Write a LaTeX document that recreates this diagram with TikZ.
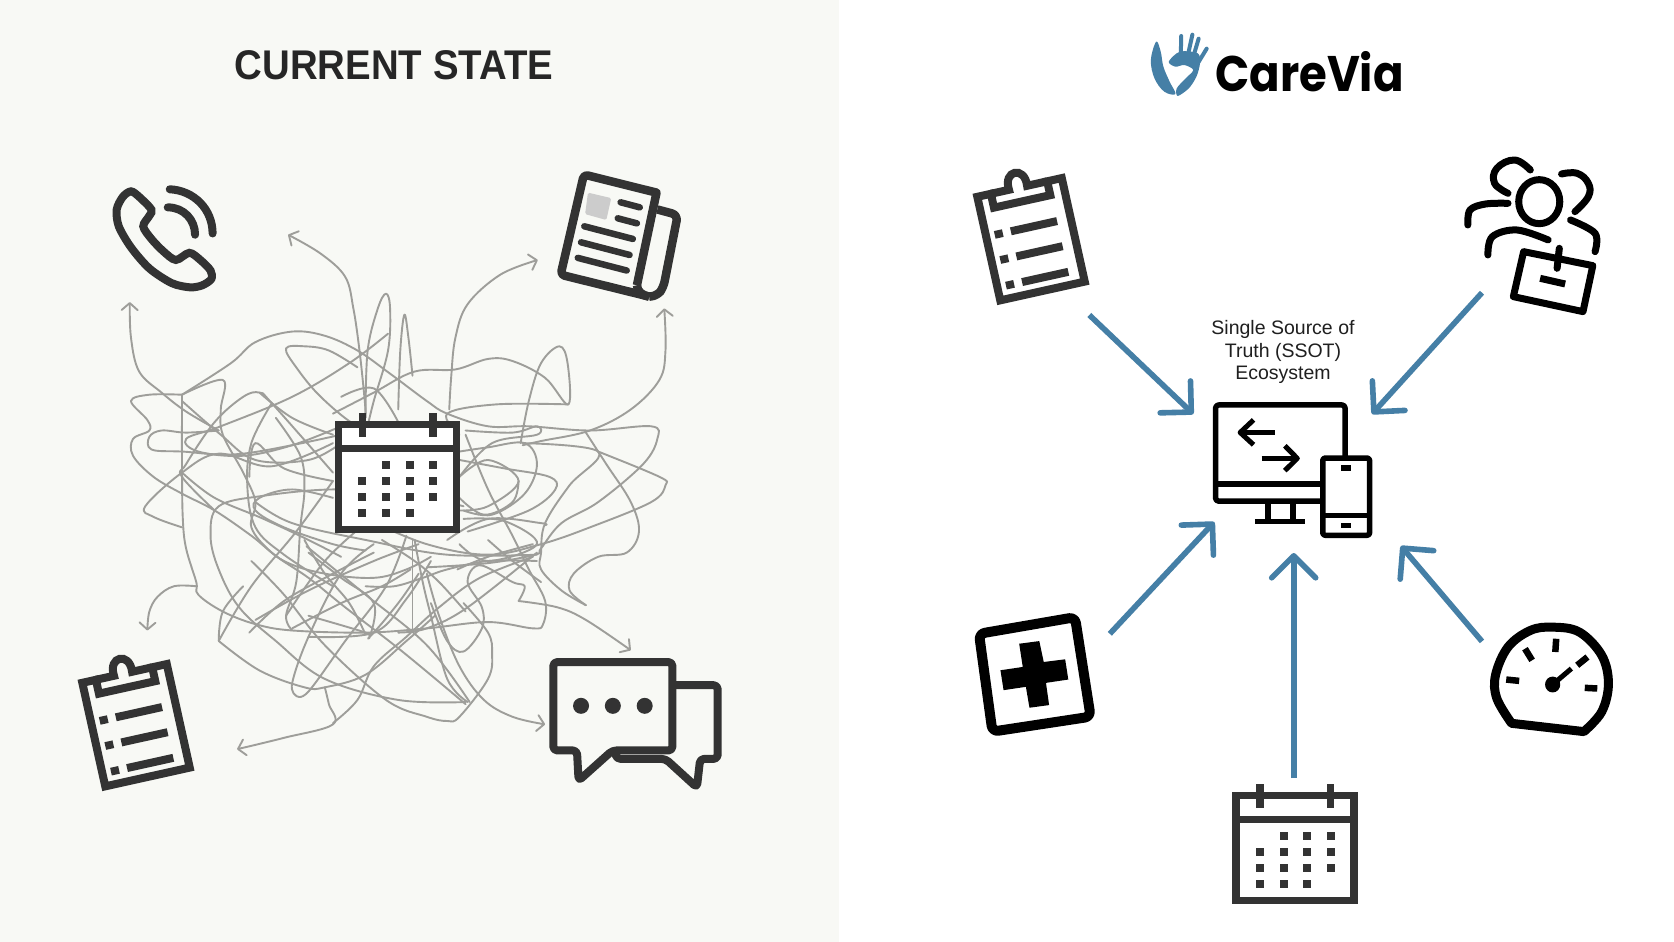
\documentclass[tikz,border=0pt]{standalone}
\usepackage{fontspec}
\usetikzlibrary{arrows.meta}
\newfontfamily\titlefont[FakeStretch=.925]{Liberation Sans}
\newfontfamily\logofont[FakeStretch=.9]{Poppins}
\newfontfamily\labelfont{Liberation Sans}
\definecolor{ink}{HTML}{333333}
\definecolor{panel}{HTML}{F8F9F5}
\definecolor{scribble}{HTML}{9E9E9A}
\definecolor{care}{HTML}{457FA6}
\tikzset{
  zoneA/.style={x=.408pt,y=-.421pt,shift={(80pt,-140pt)}},
  zoneB/.style={x=.4464pt,y=-.3333pt,shift={(950pt,-20pt)}},
  zoneC/.style={x=.4464pt,y=-.3316pt,shift={(950pt,-400pt)}},
  scrib/.style={draw=scribble,line width=1.9pt,line join=round,line cap=round},
  scribarrow/.style={scrib,-{Straight Barb[length=7pt,width=16pt,round]}},
  flow/.style={draw=care,line width=5.6pt,-{Straight Barb[length=22pt,width=44pt,round]}},
  iconline/.style={draw=ink,line width=7.5pt},
  blackline/.style={draw=black,line width=7pt},
  calendaricon/.pic={
    \draw[iconline,fill=white] (3.5,3.5) rectangle (121.5,108.5);
    \draw[iconline] (3.5,27.6) -- (121.5,27.6);
    \foreach \rx in {27.4,98}{\draw[iconline] (\rx,-8) -- (\rx,16);}
    \foreach \dx/\dy in {51/44,74.7/44,98/44,27.4/60,51/60,74.7/60,98/60,27.4/76,51/76,74.7/76,98/76,27.4/92,51/92,74.7/92}{
      \fill[ink] (\dx-4,\dy-4) rectangle (\dx+4,\dy+4);}
  },
  clipboardicon/.pic={
    \begin{scope}[rotate=12.5,x=1.03pt,y=-1.05pt]
    \draw[iconline,line width=8pt] (17,3.5) -- (3.5,3.5) -- (3.5,104.5) -- (87.5,104.5) -- (87.5,3.5) -- (73,3.5) -- (73,17) -- (17,17) -- cycle;
    \draw[iconline,line width=8pt] (17,3.5) -- (35,3.5) .. controls (33,-16) and (55,-16) .. (53,3.5) -- (73,3.5);
    \foreach \v in {42.5,67,92}{
      \draw[iconline,line width=8pt] (28,\v) -- (74,\v);
      \fill[ink] (12,\v-3.7) rectangle (20,\v+3.7);}
    \end{scope}
  }
}
\begin{document}
\begin{tikzpicture}[x=1pt,y=-1pt,line cap=butt]
\useasboundingbox (0,0) rectangle (1674,942);
\fill[white] (0,0) rectangle (1674,942);
\fill[panel] (0,0) rectangle (839,942);
\node[font=\titlefont\bfseries\fontsize{41.5}{41.5}\selectfont,text=black!85] (title) at (394,65) {CURRENT STATE};

% tangle
\begin{scope}[zoneA]
\tikzset{tn/.style={smooth,tension=.6}}
% loose ends with arrowheads
\draw[scribarrow] plot[tn] coordinates {(340,690)(260,645)(200,600)(145,550)(125,470)(122,385)};
\draw[scribarrow] plot[tn] coordinates {(700,660)(698,620)(685,500)(670,400)(650,325)(590,270)(510,225)};
\draw[scribarrow] plot[tn] coordinates {(905,640)(910,560)(920,470)(950,390)(1030,320)(1122,285)};
\draw[scribarrow] plot[tn] coordinates {(1085,725)(1130,715)(1250,690)(1350,640)(1420,570)(1435,500)(1432,400)};
\draw[scribarrow] plot[tn] coordinates {(285,1060)(230,1060)(190,1085)(170,1120)(165,1165)};
\draw[scribarrow] plot[tn] coordinates {(600,1300)(610,1340)(620,1388)(500,1420)(385,1447)};
\draw[scribarrow] plot[tn] coordinates {(850,1030)(880,1130)(930,1250)(990,1330)(1060,1370)(1140,1388)};
\draw[scribarrow] plot[tn] coordinates {(1075,1095)(1170,1110)(1240,1140)(1350,1212)};
% the knot
\draw[scrib] plot[tn] coordinates {(250,605)(170,605)(125,620)(165,665)(170,690)(130,710)(130,750)(180,800)(250,840)(330,880)(420,940)(500,1000)(600,1030)(720,1040)(800,1020)(860,990)};
\draw[scrib] plot[tn] coordinates {(250,605)(250,780)(252,900)(260,970)(285,1050)(290,1080)(350,1120)(430,1150)(520,1165)(700,1170)(850,1160)(1000,1145)(1110,1160)(1135,1150)(1140,1095)(1100,1020)(1060,940)(1000,830)(945,700)};
\draw[scrib] plot[tn] coordinates {(250,605)(350,570)(345,640)(350,700)(400,790)(430,860)(420,920)(470,980)(560,1040)(650,1110)(790,1215)(945,1340)};
\draw[scrib] plot[tn] coordinates {(250,605)(370,530)(430,480)(520,455)(600,465)(680,500)(760,555)(850,620)(900,650)(1000,680)(1100,680)(1250,690)(1400,680)(1415,710)(1380,770)(1270,860)(1180,910)(1130,970)(1115,985)(1000,1005)(850,1015)};
\draw[scrib] plot[tn] coordinates {(680,540)(610,500)(550,490)(505,495)(530,540)(590,610)(680,680)(760,700)};
\draw[scrib] plot[tn] coordinates {(780,640)(785,500)(795,415)(805,470)(815,560)};
\draw[scrib] plot[tn] coordinates {(700,650)(705,500)(730,400)(750,365)(760,400)(755,500)(720,620)(705,680)};
\draw[scrib] plot[tn] coordinates {(755,460)(660,530)(520,610)(345,680)(260,710)(290,740)(400,750)(520,725)(640,680)};
\draw[scrib] plot[tn] coordinates {(1080,720)(1100,620)(1130,530)(1175,490)(1195,530)(1197,628)(1140,565)(1060,525)(1000,520)(920,545)(820,550)(720,600)(620,650)};
\draw[scrib] plot[tn] coordinates {(1197,628)(1020,628)(900,650)(930,700)};
\draw[scrib] plot[tn] coordinates {(640,700)(400,745)(250,740)(175,735)(170,705)(200,690)(260,695)(340,690)};
\draw[scrib] plot[tn] coordinates {(620,720)(470,775)(340,745)(250,790)(160,870)(180,895)(250,920)};
\draw[scrib] plot[tn] coordinates {(1270,740)(1420,800)(1435,820)(1400,860)(1250,920)(1130,960)(1000,985)(850,960)(700,900)};
\draw[scrib] plot[tn] coordinates {(1085,720)(1270,740)(1200,820)(1140,910)(1130,980)(1130,1020)(1180,1070)(1240,1105)};
\draw[scrib] plot[tn] coordinates {(1240,695)(1290,770)(1350,860)(1370,930)(1340,980)(1270,990)(1210,1030)(1200,1070)(1240,1105)};
\draw[scrib] plot[tn] coordinates {(620,790)(470,625)(440,600)(400,610)(330,670)(260,770)(250,800)(330,880)};
\draw[scrib] plot[tn] coordinates {(470,625)(420,720)(410,820)(430,920)(500,985)(620,1060)};
\draw[scrib] plot[tn] coordinates {(480,660)(540,750)(550,830)(540,920)(530,1050)(505,1130)(520,1165)};
\draw[scrib] plot[tn] coordinates {(940,870)(800,840)(620,830)(450,845)(340,870)(320,940)(340,1020)(390,1110)(480,1190)(600,1280)(780,1330)(945,1335)};
\draw[scrib] plot[tn] coordinates {(430,860)(520,910)(700,950)(900,985)(1120,985)};
\draw[scrib] plot[tn] coordinates {(1120,980)(950,1110)(850,1160)(780,1170)};
\draw[scrib] plot[tn] coordinates {(340,1190)(440,1260)(550,1300)(600,1300)(700,1270)(800,1190)(870,1130)};
\draw[scrib] plot[tn] coordinates {(340,1190)(420,1060)(530,930)(620,810)};
\draw[scrib] plot[tn] coordinates {(530,1320)(520,1290)(560,1180)(640,1030)(720,960)};
\draw[scrib] plot[tn] coordinates {(530,1320)(560,1310)(650,1190)(750,1060)(800,940)};
\draw[scrib] plot[tn] coordinates {(415,1170)(500,1095)(620,1030)(720,980)};
\draw[scrib] plot[tn] coordinates {(620,1385)(680,1330)(720,1250)(800,1180)(880,1110)(980,1040)(1110,990)};
\draw[scrib] plot[tn] coordinates {(820,950)(840,1050)(860,1130)(900,1280)(950,1335)};
\draw[scrib] plot[tn] coordinates {(860,1100)(900,1190)(940,1215)(985,1160)(985,1110)(950,1050)(980,1010)(1060,1050)(1090,1060)(1075,1095)};
\draw[scrib] plot[tn] coordinates {(940,1100)(1000,1170)(1010,1220)(1000,1280)(930,1370)(900,1380)(850,1370)(750,1330)(600,1200)(500,1080)(420,1000)};
\draw[scrib] plot[tn] coordinates {(815,950)(815,1100)(815,1160)};
\draw[scrib] plot[tn] coordinates {(710,1180)(720,1100)(640,1040)(560,980)};
\draw[scrib] plot[tn] coordinates {(505,1130)(600,1000)(700,910)};
\draw[scrib] plot[tn] coordinates {(560,1130)(700,1170)(710,1180)(780,1100)(830,1030)};
\draw[scrib] plot[tn] coordinates {(945,690)(1060,695)(1120,680)(1120,700)(1010,720)(930,800)};
\draw[scrib] plot[tn] coordinates {(930,760)(1040,780)(1150,800)(1165,830)(1100,880)(950,930)};
\draw[scrib] plot[tn] coordinates {(930,740)(1000,730)(1090,720)(1120,770)(1090,840)(1010,890)(940,880)};
\draw[scrib] plot[tn] coordinates {(1075,810)(1060,860)(990,890)(930,850)};
\draw[scrib] plot[tn] coordinates {(900,950)(1000,900)(1130,910)(1140,915)};
\draw[scrib] plot[tn] coordinates {(640,610)(720,590)(780,670)};
\draw[scrib] plot[tn] coordinates {(930,800)(1000,760)(1075,810)(1000,870)(930,880)};
\draw[scrib] plot[tn] coordinates {(620,810)(500,780)(430,720)(415,800)};
\draw[scrib] plot[tn] coordinates {(620,850)(520,830)(440,850)(430,880)(500,920)(620,960)(700,975)};
% further strands
\draw[scrib] plot[tn] coordinates {(555,965)(700,1080)(850,1200)(955,1335)};
\draw[scrib] plot[tn] coordinates {(430,1140)(560,1070)(720,1000)(830,960)};
\draw[scrib] plot[tn] coordinates {(520,1160)(640,1100)(740,1060)(810,1020)};
\draw[scrib] plot[tn] coordinates {(1120,1000)(1000,1000)(900,1020)(840,1040)(770,1060)(700,1060)};
\draw[scrib] plot[tn] coordinates {(1000,950)(1060,1000)(1130,1050)};
\draw[scrib] plot[tn] coordinates {(340,1190)(350,1120)(400,1060)};
\draw[scrib] plot[tn] coordinates {(700,1175)(660,1100)(600,1030)(550,950)};
\draw[scrib] plot[tn] coordinates {(925,1020)(1000,990)(1110,960)};
\draw[scrib] plot[tn] coordinates {(250,620)(345,700)(430,760)(560,760)(640,720)};
\draw[scrib] plot[tn] coordinates {(440,600)(520,660)(620,700)};
\draw[scrib] plot[tn] coordinates {(250,790)(330,850)(450,900)(560,950)(640,990)};
\draw[scrib] plot[tn] coordinates {(560,1180)(720,1170)(800,1090)(860,1000)};
\draw[scrib] plot[tn] coordinates {(945,1120)(880,1050)(820,1000)(740,950)};
\draw[scrib] plot[tn] coordinates {(940,900)(1040,905)(1120,960)(1000,1000)(930,960)};

% phone
\draw[iconline,line width=8pt] plot[smooth cycle,tension=.5] coordinates {(125,122)(145,135)(175,165)(170,180)(155,205)(175,235)(205,265)(235,285)(268,268)(295,285)(320,310)(322,330)(300,345)(270,350)(225,340)(170,305)(125,255)(95,205)(90,165)(105,135)};
\draw[iconline,line width=8pt,line cap=round] (215,160) .. controls (255,160) and (282,190) .. (282,225);
\draw[iconline,line width=8pt,line cap=round] (220,117) .. controls (280,120) and (325,165) .. (325,222);
% newspaper
\draw[iconline,line width=8.5pt,line join=round] (1365,345) -- (1413,125) [rounded corners=4pt] -- (1235,82) -- (1178,320) -- (1395,372);
\draw[iconline,line width=8.5pt,line join=round,rounded corners=6pt] (1415,165) -- (1465,178) -- (1430,350) -- (1415,370) -- (1395,372);
\draw[iconline,line width=8.5pt] (1365,345) .. controls (1365,360) and (1380,370) .. (1395,372);
\fill[black!20,rounded corners=1.5pt] (1245,125) -- (1302,138) -- (1290,190) -- (1238,176) -- cycle;
\foreach \xa/\ya/\xb/\yb in {1325/148/1372/160,1318/186/1365/198,1236/205/1355/235,1228/243/1347/273,1220/280/1340/310}{
  \draw[iconline,line width=6.5pt,line cap=round] (\xa,\ya) -- (\xb,\yb);}
% chat
\draw[iconline,line width=8pt,line join=round,rounded corners=4pt] (1160,1240) -- (1452,1240) -- (1452,1450) -- (1305,1450) -- (1222,1522) -- (1218,1450) -- (1160,1450) -- cycle;
\draw[iconline,line width=8pt,line join=round,rounded corners=4pt,line cap=round] (1455,1295) -- (1563,1295) -- (1563,1470) -- (1520,1470) -- (1512,1538) -- (1435,1470) -- (1315,1470) -- (1312,1458);
\foreach \cx in {1228,1306,1384}{\fill[ink] (\cx,1344) circle[radius=8pt];}
\end{scope}

\pic at (335,421) {calendaricon};
\pic at (78,680) {clipboardicon};
\pic at (973,194) {clipboardicon};
\pic at (1232.6,792) {calendaricon};

% logo
\begin{scope}[zoneB]
\fill[care] plot[smooth cycle,tension=.6] coordinates {(462,65)(450,120)(458,175)(480,215)(505,222)(492,185)(478,140)(472,95)};
\fill[care] plot[smooth cycle,tension=.5] coordinates {(490,125)(515,95)(555,100)(560,130)(552,170)(535,205)(510,228)(508,205)(528,175)(545,150)(525,135)(505,140)};
\foreach \xa/\ya/\xb/\yb in {518/48/517/105,543/44/533/105,557/56/545/110,575/86/555/130}{
  \draw[care,line width=4pt,line cap=round] (\xa,\ya) -- (\xb,\yb);}
% person and briefcase
\tikzset{pp/.style={blackline,line cap=round,line join=round}}
\draw[pp] plot[smooth,tension=.7] coordinates {(1300,450)(1265,420)(1225,445)(1220,490)(1250,520)};
\draw[pp] plot[smooth,tension=.7] coordinates {(1370,462)(1405,460)(1430,490)(1430,530)(1400,575)};
\draw[pp] (1320,545) ellipse[x radius=46,y radius=66];
\draw[pp] plot[smooth,tension=.6] coordinates {(1160,615)(1165,570)(1200,552)(1250,550)};
\draw[pp] plot[smooth,tension=.6] coordinates {(1205,705)(1215,650)(1270,630)(1340,660)};
\draw[pp] plot[smooth,tension=.6] coordinates {(1390,600)(1445,640)(1445,695)};
\draw[pp] (1285,695) -- (1440,737) -- (1418,875) -- (1262,830) -- cycle;
\draw[pp] (1365,685) -- (1360,745);
\draw[blackline] (1322,775) -- (1378,792);
\end{scope}
\node[font=\logofont\bfseries\fontsize{50}{50}\selectfont,text=black,anchor=base west,inner sep=0pt] (brand) at (1215,91.5) {CareVia};
\node[font=\labelfont\fontsize{19.5}{22.6}\selectfont,text=black!88,align=center] (ssot) at (1283,352) {Single Source of\\Truth (SSOT)\\Ecosystem};

% device hub
\begin{scope}[zoneC]
\tikzset{dv/.style={draw=black,line width=5.5pt,line join=round}}
\draw[dv,rounded corners=3pt] (885,172) -- (885,15) -- (595,15) -- (595,305) -- (832,305);
\draw[dv] (595,253) -- (832,253);
\draw[dv] (712,310) -- (712,365);
\draw[dv] (768,310) -- (768,365);
\draw[dv] (683,366) -- (796,366);
\draw[dv,line width=5pt] (728,98) -- (650,98);
\draw[dv,line width=5pt] (680,60) -- (650,98) -- (680,135);
\draw[dv,line width=5pt] (698,176) -- (778,176);
\draw[dv,line width=5pt] (750,138) -- (778,176) -- (750,213);
\draw[dv,rounded corners=2.5pt] (835,175) rectangle (940,408);
\draw[dv] (835,348) -- (940,348);
\fill[black] (876,197) rectangle (898,213);
\fill[black] (876,370) rectangle (898,386);
% medical card
\draw[blackline,line width=10pt,line join=round,rounded corners=6pt] (65,705) -- (280,655) -- (315,955) -- (95,1000) -- cycle;
\fill[black] (155,735) -- (200,727) -- (210,790) -- (258,782) -- (265,843) -- (215,853) -- (222,920) -- (178,928) -- (170,865) -- (120,875) -- (113,815) -- (163,805) -- cycle;
% gauge
\draw[blackline,line width=9pt,line join=round] plot[smooth,tension=.6] coordinates {(1258,975)(1225,900)(1222,830)(1250,745)(1300,695)(1350,685)(1410,700)(1460,770)(1475,855)(1460,940)(1420,1000)} -- cycle;
\foreach \xa/\ya/\xb/\yb in {1246/843/1275/847,1288/750/1304/785,1358/720/1356/760,1428/775/1405/800,1450/870/1422/868}{
  \draw[blackline,line width=6.5pt] (\xa,\ya) -- (\xb,\yb);}
\draw[blackline,line width=5pt] (1350,858) -- (1392,810);
\fill[black] (1350,858) ellipse[x radius=17,y radius=24];
\end{scope}

% connectors into the hub
\coordinate (clipOut) at (1089.3,315);
\coordinate (hubNW) at (1193.3,414);
\coordinate (teamOut) at (1482,292.7);
\coordinate (hubNE) at (1372,414);
\coordinate (crossOut) at (1109.8,633.8);
\coordinate (hubSW) at (1214.3,522);
\coordinate (calOut) at (1293.7,778);
\coordinate (hubS) at (1293.7,553);
\coordinate (gaugeOut) at (1482,641.4);
\coordinate (hubSE) at (1400.9,546);
\draw[flow] (clipOut) -- (hubNW);
\draw[flow] (teamOut) -- (hubNE);
\draw[flow] (crossOut) -- (hubSW);
\draw[flow] (calOut) -- (hubS);
\draw[flow] (gaugeOut) -- (hubSE);
\end{tikzpicture}
\end{document}
